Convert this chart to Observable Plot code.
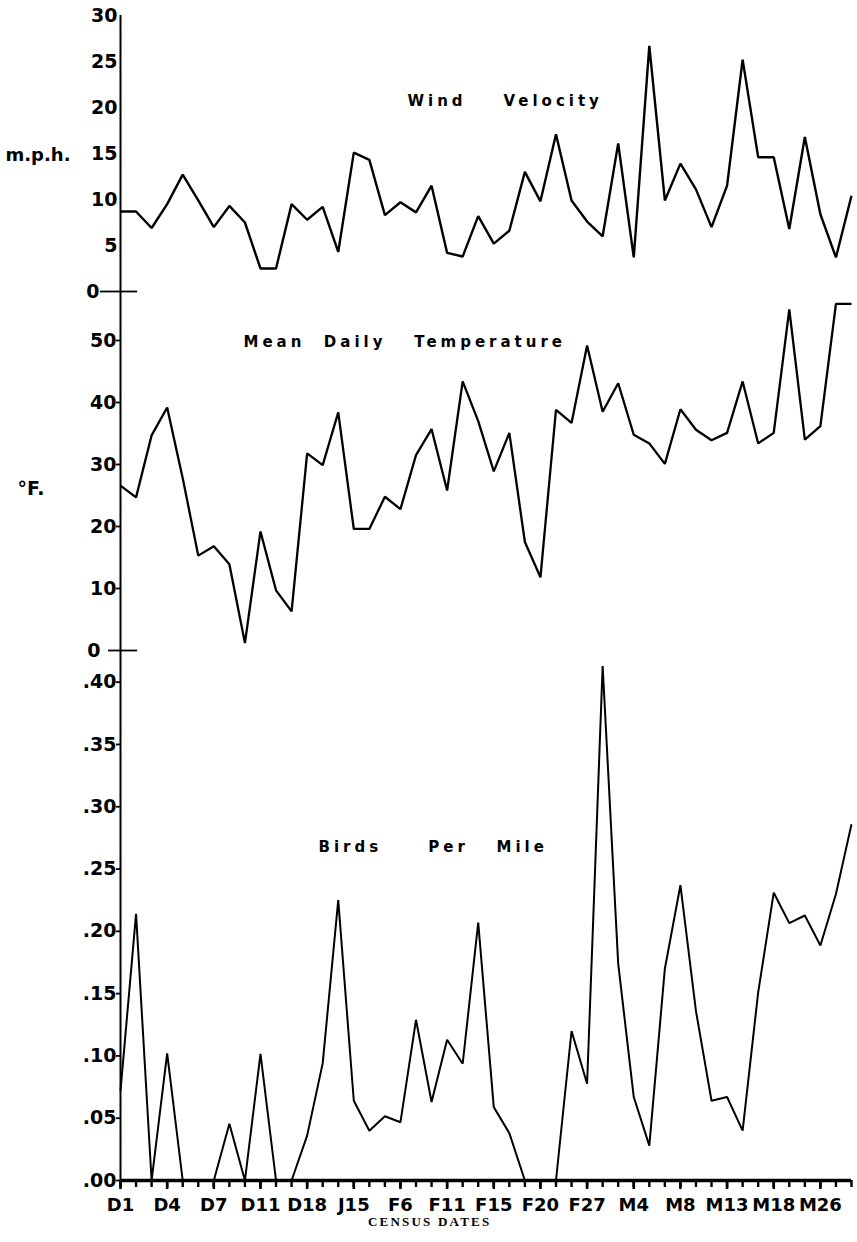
<!DOCTYPE html>
<html><head><meta charset="utf-8">
<script src="https://cdn.jsdelivr.net/npm/d3@7"></script>
<script src="https://cdn.jsdelivr.net/npm/@observablehq/plot@0.6"></script>
<style>
body{margin:0;background:#fff;}
#wrap{position:relative;width:857px;height:1242px;}
#wrap svg{display:block;overflow:visible;}
.caption{position:absolute;left:368px;top:1214px;line-height:16px;font-family:"Liberation Serif",serif;font-weight:bold;font-size:13px;letter-spacing:2.2px;color:#000;}
</style></head><body><div id="wrap"></div><script>
// Census dates: 48 censuses, labelled every third one
const dateLabels = ["D1","D4","D7","D11","D18","J15","F6","F11","F15","F20","F27","M4","M8","M13","M18","M26"];
const nCensus = 48;

// Wind velocity (m.p.h.)
const wind = [8.7,8.7,6.9,9.5,12.7,9.9,7.0,9.3,7.5,2.5,2.5,9.5,7.8,9.2,4.3,15.1,14.3,8.3,9.7,8.6,
  11.5,4.2,3.8,8.2,5.2,6.6,13.0,9.8,17.1,9.9,7.6,6.0,16.1,3.7,26.7,9.9,13.9,11.1,7.0,11.5,
  25.2,14.6,14.6,6.8,16.8,8.4,3.7,10.4];
// Mean daily temperature (°F)
const temp = [26.6,24.7,34.7,39.2,27.8,15.3,16.8,13.9,1.2,19.2,9.7,6.3,31.8,29.9,38.4,19.6,19.6,24.8,22.8,31.5,
  35.7,25.8,43.4,37.0,28.9,35.1,17.5,11.8,38.8,36.7,49.2,38.5,43.1,34.8,33.4,30.1,38.9,35.6,33.9,35.1,
  43.4,33.4,35.1,55.0,34.0,36.2,55.9,55.9];
// Birds per mile
const birds = [0.072,0.214,0,0.102,0,0,0,0.0455,0,0.1017,0,0,0.036,0.094,0.225,0.064,0.040,0.0516,0.0468,0.129,
  0.063,0.113,0.0937,0.207,0.0589,0.038,0,0,0,0.12,0.0776,0.413,0.174,0.067,0.028,0.170,0.237,0.136,0.064,0.067,
  0.040,0.151,0.231,0.2066,0.2127,0.1886,0.230,0.286];

const windTicks = [0,5,10,15,20,25,30];
const tempTicks = [0,10,20,30,40,50];
const birdTicks = [0,0.05,0.10,0.15,0.20,0.25,0.30,0.35,0.40];

const titles = {
  wind: "Wind\u00a0\u00a0\u00a0\u00a0Velocity",
  temp: "Mean\u00a0\u00a0Daily\u00a0\u00a0\u00a0Temperature",
  birds: "Birds\u00a0\u00a0\u00a0\u00a0\u00a0Per\u00a0\u00a0\u00a0Mile"
};

const idx = d3.range(nCensus);
const labelIdx = dateLabels.map((d, i) => i * 3);

const FONT = "DejaVu Sans";
const baseStyle = {fontFamily: FONT, fontWeight: "bold", overflow: "visible", background: "none", color: "#000"};
const base = {width: 857, marginLeft: 120, marginRight: 6, style: baseStyle};
const lineStyle = {stroke: "#000", strokeWidth: 2.3, strokeLinejoin: "miter", strokeLinecap: "butt"};

const windPlot = Plot.plot({
  ...base, height: 291, marginTop: 15, marginBottom: 0,
  x: {domain: [0, nCensus - 1], axis: null},
  y: {domain: [0, 30]},
  marks: [
    Plot.axisY({ticks: windTicks.filter(d => d > 0), tickSize: 0, tickPadding: 3, fontSize: 19, label: null}),
    Plot.axisY({ticks: [0], tickSize: 20, tickPadding: 1, fontSize: 19, strokeWidth: 1.8, label: null}),
    Plot.ruleY([0], {x1: 0, x2: 1.1, strokeWidth: 1.8}),
    Plot.ruleX([0], {strokeWidth: 2}),
    Plot.lineY(wind, {x: (d, i) => i, y: d => d, ...lineStyle, strokeWidth: 2.4}),
    Plot.text([titles.wind], {frameAnchor: "top-left", dx: 287, dy: 86, textAnchor: "start", lineAnchor: "middle", fontSize: 15}),
    Plot.text(["m.p.h."], {frameAnchor: "top-left", dx: -115, dy: 140, textAnchor: "start", lineAnchor: "middle", fontSize: 18})
  ]
});

const tempPlot = Plot.plot({
  ...base, height: 359, marginTop: 0, marginBottom: 0,
  x: {domain: [0, nCensus - 1], axis: null},
  y: {domain: [0, 57.9]},
  marks: [
    Plot.axisY({ticks: tempTicks.filter(d => d > 0), tickSize: 4, tickPadding: 0, fontSize: 19, strokeWidth: 1.8, label: null}),
    Plot.axisY({ticks: [0], tickSize: 12, tickPadding: 8, fontSize: 19, strokeWidth: 1.8, label: null}),
    Plot.ruleY([0], {x1: 0, x2: 1.1, strokeWidth: 1.8}),
    Plot.ruleX([0], {strokeWidth: 2}),
    Plot.lineY(temp, {x: (d, i) => i, y: d => d, ...lineStyle}),
    Plot.text([titles.temp], {frameAnchor: "top-left", dx: 123, dy: 51, textAnchor: "start", lineAnchor: "middle", fontSize: 15}),
    Plot.text(["°F."], {frameAnchor: "top-left", dx: -103, dy: 197, textAnchor: "start", lineAnchor: "middle", fontSize: 19})
  ]
});

const birdPlot = Plot.plot({
  ...base, height: 530, marginTop: 0, marginBottom: 0,
  x: {domain: [0, nCensus - 1], axis: null},
  y: {domain: [0, 0.4254]},
  marks: [
    Plot.axisY({ticks: birdTicks, tickSize: 4, tickPadding: 0, fontSize: 19, strokeWidth: 1.8, label: null,
      tickFormat: d => d.toFixed(2).replace(/^0/, "")}),
    Plot.ruleX([0], {strokeWidth: 2}),
    Plot.lineY(birds, {x: (d, i) => i, y: d => d, ...lineStyle, strokeWidth: 2}),
    Plot.text([titles.birds], {frameAnchor: "top-left", dx: 198, dy: 197, textAnchor: "start", lineAnchor: "middle", fontSize: 15})
  ]
});

// Census-date axis strip: thick baseline, a tick per census, labels every third census
const axisPlot = Plot.plot({
  width: 857, marginLeft: 120, marginRight: 6,
  height: 62, marginTop: 30, marginBottom: 32,
  x: {domain: [0, nCensus - 1]},
  y: {domain: [0, 1], axis: null},
  style: {...baseStyle, marginTop: "-30px"},
  marks: [
    Plot.axisX({ticks: idx, tickSize: 7, tickFormat: () => "", strokeWidth: 2.4, label: null}),
    Plot.axisX({ticks: labelIdx, tickSize: 9, tickPadding: 9, strokeWidth: 2.6, fontSize: 18, label: null,
      tickFormat: i => dateLabels[labelIdx.indexOf(i)]}),
    Plot.ruleY([0], {strokeWidth: 3.6})
  ]
});

const wrap = document.getElementById("wrap");
for (const p of [windPlot, tempPlot, birdPlot, axisPlot]) {
  p.querySelectorAll("text").forEach(t => {
    if (Object.values(titles).includes(t.textContent)) t.style.letterSpacing = "4px";
  });
  wrap.appendChild(p);
}
const cap = document.createElement("div");
cap.className = "caption";
cap.textContent = "CENSUS DATES";
wrap.appendChild(cap);
</script></body></html>
